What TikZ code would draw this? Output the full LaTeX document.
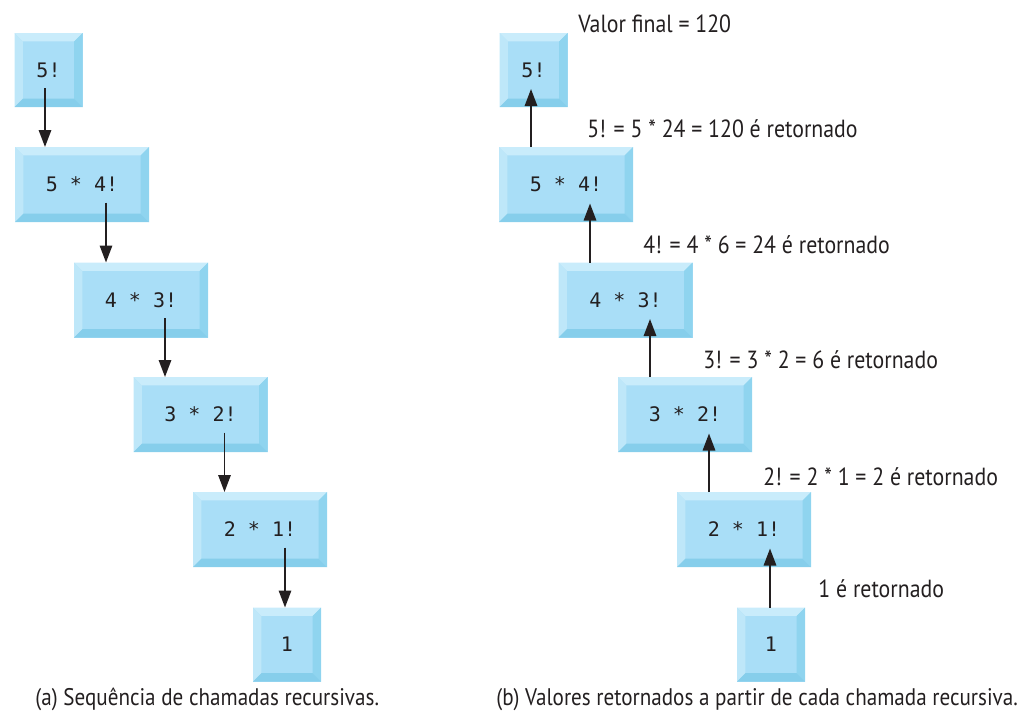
\documentclass[tikz,border=0pt]{standalone}
\usepackage{fontspec}
\setmainfont{PT Sans}[FakeStretch=0.88]
\newfontfamily\boxfont{DejaVu Sans Mono}
\usepackage{tikz}
\usetikzlibrary{arrows.meta,positioning,calc}
\definecolor{boxmid}{HTML}{A9DEF7}
\definecolor{boxtop}{HTML}{C9ECFB}
\definecolor{boxleft}{HTML}{BEE7F9}
\definecolor{boxright}{HTML}{8FD4EF}
\definecolor{boxbottom}{HTML}{86CEEB}
\definecolor{ink}{HTML}{231F20}
\tikzset{
    every picture/.style={line join=round},
    callbox/.style={fill=boxmid,inner sep=0pt,outer sep=0pt,
      font=\boxfont\fontsize{10}{12}\selectfont,text=ink,
      path picture={
        \fill[boxtop] (path picture bounding box.north west)
          -- (path picture bounding box.north east)
          -- ([shift={(-4.2pt,-4.2pt)}]path picture bounding box.north east)
          -- ([shift={(4.2pt,-4.2pt)}]path picture bounding box.north west) -- cycle;
        \fill[boxleft] (path picture bounding box.north west)
          -- ([shift={(4.2pt,-4.2pt)}]path picture bounding box.north west)
          -- ([shift={(4.2pt,4.2pt)}]path picture bounding box.south west)
          -- (path picture bounding box.south west) -- cycle;
        \fill[boxright] (path picture bounding box.north east)
          -- (path picture bounding box.south east)
          -- ([shift={(-4.2pt,4.2pt)}]path picture bounding box.south east)
          -- ([shift={(-4.2pt,-4.2pt)}]path picture bounding box.north east) -- cycle;
        \fill[boxbottom] (path picture bounding box.south west)
          -- (path picture bounding box.south east)
          -- ([shift={(-4.2pt,4.2pt)}]path picture bounding box.south east)
          -- ([shift={(4.2pt,4.2pt)}]path picture bounding box.south west) -- cycle;
      }},
    widebox/.style={callbox,minimum width=67pt,minimum height=37.5pt},
    smallbox/.style={callbox,minimum width=34pt,minimum height=37pt},
    flowarrow/.style={-{Triangle[length=8.5pt,width=6.2pt]},draw=ink,line width=0.9pt},
    retlabel/.style={anchor=base west,inner sep=0pt,text=ink,
      font=\fontsize{12.4}{14}\selectfont},
    caption/.style={retlabel,font=\fontsize{12}{14}\selectfont}
}
\begin{document}
\begin{tikzpicture}[x=0.5pt,y=-0.5pt]
  \useasboundingbox (0,0) rectangle (1023,724);
  % (a) chamadas
  \node[smallbox] (a5) at (48.5,70) {5!};
  \node[widebox] (a4) at (82,184.5) {5 * 4!};
  \node[widebox] (a3) at (141,300) {4 * 3!};
  \node[widebox] (a2) at (200.5,414.5) {3 * 2!};
  \node[widebox] (a1) at (260,529.5) {2 * 1!};
  \node[smallbox] (a0) at (287,644.5) {1};
  \coordinate (a5x) at ([shift={(-3.5,18)}]a5.center);
  \coordinate (a4x) at ([shift={(24,18)}]a4.center);
  \coordinate (a3x) at ([shift={(24,18)}]a3.center);
  \coordinate (a2x) at ([shift={(24,18)}]a2.center);
  \coordinate (a1x) at ([shift={(25,18)}]a1.center);
  \draw[flowarrow] (a5x) -- (a5x |- a4.north);
  \draw[flowarrow] (a4x) -- (a4x |- a3.north);
  \draw[flowarrow] (a3x) -- (a3x |- a2.north);
  \draw[flowarrow] (a2x) -- (a2x |- a1.north);
  \draw[flowarrow] (a1x) -- (a1x |- a0.north);
  \node[caption] (capa) at (35,705) {(a) Sequência de chamadas recursivas.};
  % (b) valores retornados
  \node[smallbox] (b5) at (533.5,70) {5!};
  \node[widebox] (b4) at (566,184.5) {5 * 4!};
  \node[widebox] (b3) at (625.5,300) {4 * 3!};
  \node[widebox] (b2) at (685,414.5) {3 * 2!};
  \node[widebox] (b1) at (744,529.5) {2 * 1!};
  \node[smallbox] (b0) at (771,644.5) {1};
  \coordinate (b5x) at ([shift={(-2.5,19)}]b5.center);
  \coordinate (b4x) at ([shift={(24,19)}]b4.center);
  \coordinate (b3x) at ([shift={(24.5,19)}]b3.center);
  \coordinate (b2x) at ([shift={(24,19)}]b2.center);
  \coordinate (b1x) at ([shift={(26,19)}]b1.center);
  \draw[flowarrow] (b5x |- b4.north) -- (b5x);
  \draw[flowarrow] (b4x |- b3.north) -- (b4x);
  \draw[flowarrow] (b3x |- b2.north) -- (b3x);
  \draw[flowarrow] (b2x |- b1.north) -- (b2x);
  \draw[flowarrow] (b1x |- b0.north) -- (b1x);
  \node[retlabel] (final) at (578,32) {Valor final = 120};
  \node[retlabel] (r4) at (587,137) {5! = 5 * 24 = 120 é retornado};
  \node[retlabel] (r3) at (643,253) {4! = 4 * 6 = 24 é retornado};
  \node[retlabel] (r2) at (703,368) {3! = 3 * 2 = 6 é retornado};
  \node[retlabel] (r1) at (763,485) {2! = 2 * 1 = 2 é retornado};
  \node[retlabel] (r0) at (818,597) {1 é retornado};
  \node[caption] (capb) at (496,705) {(b) Valores retornados a partir de cada chamada recursiva.};
\end{tikzpicture}
\end{document}
